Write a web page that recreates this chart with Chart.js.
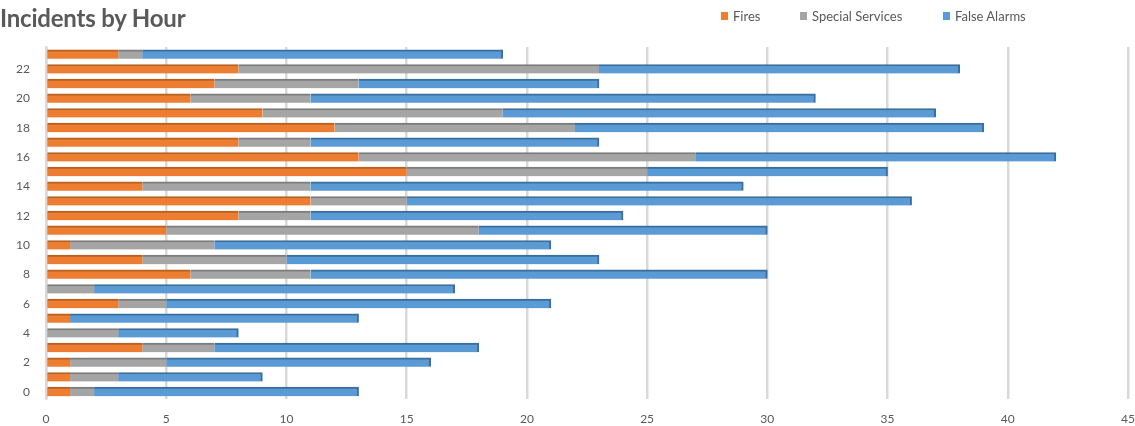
<!DOCTYPE html>
<html>
<head>
<meta charset="utf-8">
<script src="https://cdn.jsdelivr.net/npm/chart.js@4"></script>
<style>
  html, body { margin: 0; padding: 0; background: #fff; }
  #wrap { position: relative; width: 1135px; height: 426px; font-family: Lato, "Open Sans", sans-serif; }
  #title { position: absolute; left: 0; top: 3px; font-size: 24px; font-weight: bold; color: #595959; letter-spacing: -0.2px; }
  #legend { position: absolute; left: 721px; top: 8px; font-size: 13px; color: #595959; display: flex; }
  #legend span.item { display: flex; align-items: center; }
  #legend i { display: inline-block; width: 7px; height: 8px; margin-right: 5px; }
  canvas { position: absolute; left: 0; top: 0; }
</style>
</head>
<body>
<div id="wrap">
  <canvas id="chart" width="1135" height="426"></canvas>
  <div id="title">Incidents by Hour</div>
  <div id="legend"></div>
</div>
<script>
// hours of the day, 0 at the bottom
const hours = ['0','1','2','3','4','5','6','7','8','9','10','11','12','13','14','15','16','17','18','19','20','21','22','23'];
const fires          = [1, 1, 1, 4, 0, 1, 3, 0, 6, 4, 1, 5, 8, 11, 4, 15, 13, 8, 12, 9, 6, 7, 8, 3];
const specialServices = [1, 2, 4, 3, 3, 0, 2, 2, 5, 6, 6, 13, 3, 4, 7, 10, 14, 3, 10, 10, 5, 6, 15, 1];
const falseAlarms    = [11, 6, 11, 11, 5, 12, 16, 15, 19, 13, 14, 12, 13, 21, 18, 10, 15, 12, 17, 18, 21, 10, 15, 15];
const xTicks = [0, 5, 10, 15, 20, 25, 30, 35, 40, 45];

const series = [
  {label: 'Fires', data: fires, color: '#ED7D31', edge: '#B9601F'},
  {label: 'Special Services', data: specialServices, color: '#A5A5A5', edge: '#7C7C7C'},
  {label: 'False Alarms', data: falseAlarms, color: '#5B9BD5', edge: '#3A6E9E'},
];

// html legend, item left edges
const legendX = [0, 79, 222];
const leg = document.getElementById('legend');
series.forEach((s, i) => {
  const it = document.createElement('span');
  it.className = 'item';
  it.style.position = 'absolute';
  it.style.left = legendX[i] + 'px';
  it.style.whiteSpace = 'nowrap';
  it.innerHTML = '<i style="background:' + s.color + '"></i>' + s.label;
  leg.appendChild(it);
});

const tickFont = {family: 'Lato, "Open Sans", sans-serif', size: 12};

new Chart(document.getElementById('chart').getContext('2d'), {
  type: 'bar',
  data: {
    labels: hours,
    datasets: series.map((s, i) => ({
      label: s.label,
      data: s.data,
      backgroundColor: s.color,
      borderColor: s.edge,
      borderWidth: i === 2 ? {top: 2, right: 2, bottom: 0, left: 0} : {top: 2, right: 0, bottom: 0, left: 0},
      borderSkipped: false,
      barThickness: 9,
    }))
  },
  options: {
    indexAxis: 'y',
    responsive: false,
    animation: false,
    layout: {padding: {top: 47, right: 0, bottom: 0, left: 0}},
    plugins: {
      legend: {display: false},
      title: {display: false},
      tooltip: {enabled: false},
    },
    scales: {
      x: {
        stacked: true,
        min: 0,
        max: 45,
        afterBuildTicks: (scale) => { scale.ticks = xTicks.map(v => ({value: v})); },
        grid: {color: '#D9D9D9', lineWidth: 2.5, drawTicks: false},
        border: {display: false},
        ticks: {color: '#595959', font: tickFont, padding: 13},
        afterFit: (scale) => {
          scale.height = 27;
          scale.paddingLeft = 0;
          scale.paddingRight = 7;
        },
      },
      y: {
        stacked: true,
        reverse: true,
        grid: {display: false},
        border: {display: true, color: '#D9D9D9', width: 2.5},
        ticks: {
          color: '#595959',
          font: tickFont,
          autoSkip: false,
          padding: 8,
          callback: function (v, i) { return i % 2 === 0 ? this.getLabelForValue(v) : ''; },
        },
        afterFit: (scale) => { scale.width = 46; },
      },
    },
  },
});
</script>
</body>
</html>
